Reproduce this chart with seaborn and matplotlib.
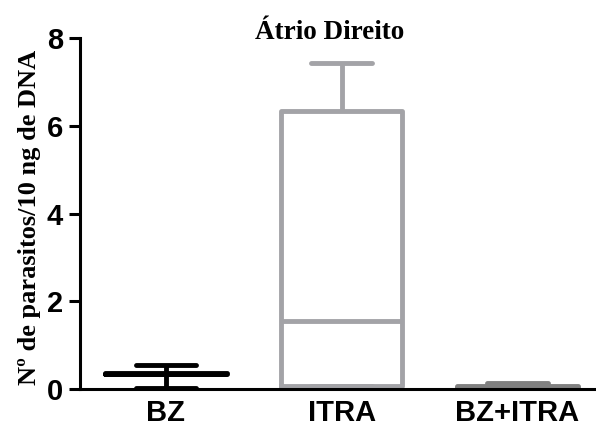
import numpy as np
import pandas as pd
import matplotlib
matplotlib.use('Agg')
import matplotlib.pyplot as plt
import seaborn as sns

# Valores (min, Q1, mediana, Q3, max) por grupo
grupos = ['BZ', 'ITRA', 'BZ+ITRA']
bz = [0.03, 0.34, 0.35, 0.36, 0.55]
itra = [0.07, 0.07, 1.56, 6.34, 7.43]
bz_itra = [0.0, 0.02, 0.04, 0.06, 0.14]
cores = ['#000000', '#a3a3a7', '#808080']
y_ticks = [0, 2, 4, 6, 8]

titulo = 'Átrio Direito'
y_label = 'Nº de parasitos/10 ng de DNA'

df = pd.DataFrame({
    'grupo': np.repeat(grupos, 5),
    'valor': np.concatenate([bz, itra, bz_itra]),
})

sns.set_style('ticks')
plt.rcParams['font.family'] = ['Liberation Sans', 'DejaVu Sans']
plt.rcParams['text.color'] = 'black'

fig, ax = plt.subplots(figsize=(5.96, 4.28), dpi=100)
fig.subplots_adjust(left=0.134, right=0.998, bottom=0.091, top=0.911)

sns.boxplot(data=df, x='grupo', y='valor', hue='grupo', palette=cores,
            fill=False, whis=(0, 100), width=0.69, linewidth=3.5,
            showfliers=False, legend=False, ax=ax)

ax.set_ylim(0, 8)
ax.set_xlim(-0.49, 2.44)
ax.set_yticks(y_ticks)
ax.set_xlabel('')
ax.set_ylabel('')
sns.despine(ax=ax)
for s in ['left', 'bottom']:
    ax.spines[s].set_linewidth(2.2)
    ax.spines[s].set_color('black')
ax.tick_params(axis='y', length=8, width=2.2, pad=4, colors='black')
ax.tick_params(axis='x', length=0, pad=7, colors='black')
for lab in ax.get_xticklabels() + ax.get_yticklabels():
    lab.set_fontweight('bold')
    lab.set_fontsize(21)

fig.text(330 / 596, 1 - 39 / 428, titulo, ha='center', va='baseline', color='black',
         fontsize=19.5, fontweight='bold', family=['Liberation Serif', 'DejaVu Serif'])
fig.text(30 / 596, 1 - 217 / 428, y_label, ha='center', va='center', rotation=90,
         color='black', fontsize=19, fontweight='bold',
         family=['Liberation Serif', 'DejaVu Serif'])

plt.savefig('out.png', dpi=100)
